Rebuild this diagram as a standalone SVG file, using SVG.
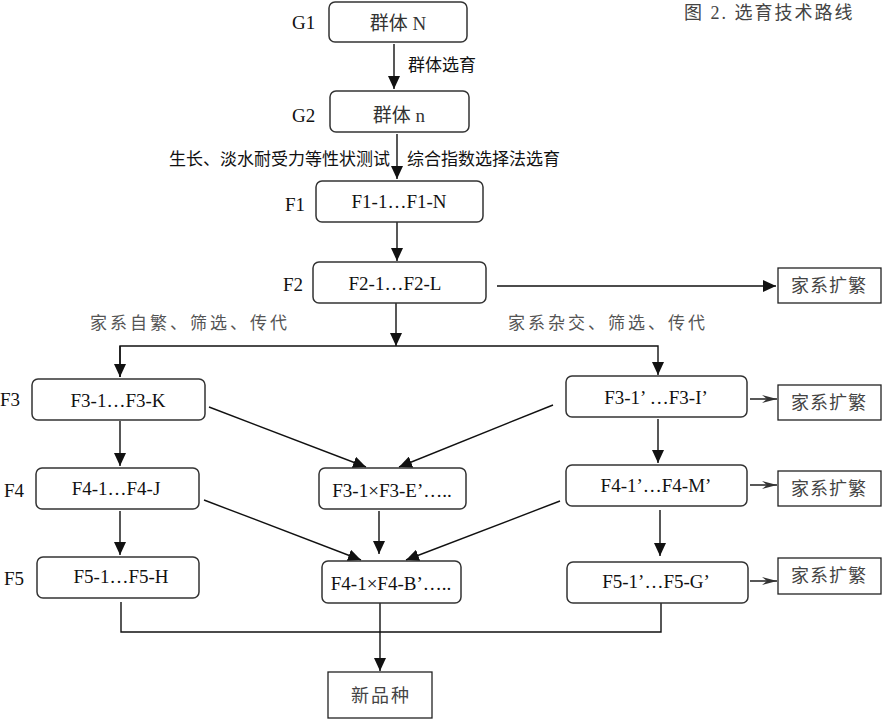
<svg xmlns="http://www.w3.org/2000/svg" width="883" height="719" viewBox="0 0 883 719">
<defs>
<marker id="ah" markerUnits="userSpaceOnUse" markerWidth="14" markerHeight="12" refX="13" refY="6" orient="auto">
<path d="M0,0 L13,6 L0,12 Z" fill="#111"/>
</marker>
<marker id="ah2" markerUnits="userSpaceOnUse" markerWidth="16" markerHeight="10" refX="15" refY="5" orient="auto">
<path d="M0,1 L15,5 L0,9 L5,5 Z" fill="#333"/>
</marker>
<style>
.box{fill:#fff;stroke:#333;stroke-width:1.5}
.sq{fill:#fff;stroke:#222;stroke-width:1.3}
.ln{fill:none;stroke:#111;stroke-width:1.4}
.t{font-family:"Liberation Serif","Noto Sans CJK SC",serif;font-size:19px;fill:#111;text-anchor:middle;dominant-baseline:central}
.lab{font-family:"Liberation Serif",serif;font-size:19px;fill:#111;dominant-baseline:central}
.zh{font-family:"Noto Sans CJK SC",sans-serif;font-size:17px;fill:#111;dominant-baseline:central}
.zs{font-family:"Liberation Serif","Noto Sans CJK SC",serif;font-size:17px;fill:#555;dominant-baseline:central;letter-spacing:3px}
.zb{font-family:"Liberation Serif","Noto Sans CJK SC",serif;font-size:18px;fill:#444;text-anchor:middle;dominant-baseline:central;letter-spacing:1px}
</style>
</defs>
<text x="684" y="13" class="zs" style="fill:#444;font-size:18px;letter-spacing:2px">图 2. 选育技术路线</text>
<g id="connectors">
<line class="ln" x1="394" y1="44" x2="394" y2="89" marker-end="url(#ah)"/>
<line class="ln" x1="397" y1="134" x2="397" y2="179" marker-end="url(#ah)"/>
<line class="ln" x1="397" y1="222" x2="397" y2="261" marker-end="url(#ah)"/>
<line class="ln" x1="497" y1="286" x2="776" y2="286" marker-end="url(#ah)"/>
<line class="ln" x1="396" y1="303" x2="396" y2="346" marker-end="url(#ah)"/>
<polyline class="ln" points="120,377 120,346 658,346 658,375" marker-end="url(#ah)"/>
<line class="ln" x1="120" y1="346" x2="120" y2="377" marker-end="url(#ah)"/>
<line class="ln" x1="120" y1="421" x2="120" y2="466" marker-end="url(#ah)"/>
<line class="ln" x1="120" y1="511" x2="120" y2="555" marker-end="url(#ah)"/>
<line class="ln" x1="658" y1="419" x2="658" y2="463" marker-end="url(#ah)"/>
<line class="ln" x1="660" y1="510" x2="660" y2="556" marker-end="url(#ah)"/>
<line class="ln" x1="209" y1="407" x2="366" y2="467" marker-end="url(#ah)"/>
<line class="ln" x1="553" y1="405" x2="399" y2="467" marker-end="url(#ah)"/>
<line class="ln" x1="204" y1="500" x2="361" y2="560" marker-end="url(#ah)"/>
<line class="ln" x1="560" y1="501" x2="406" y2="560" marker-end="url(#ah)"/>
<line class="ln" x1="379" y1="511" x2="379" y2="554" marker-end="url(#ah)"/>
<polyline class="ln" points="121,602 121,632 661,632 661,603"/>
<line class="ln" x1="380" y1="603" x2="380" y2="671" marker-end="url(#ah)"/>
<line class="ln" x1="750" y1="399" x2="777" y2="399" marker-end="url(#ah2)"/>
<line class="ln" x1="750" y1="485" x2="777" y2="485" marker-end="url(#ah2)"/>
<line class="ln" x1="750" y1="581" x2="777" y2="581" marker-end="url(#ah2)"/>
</g>
<text x="408" y="63" class="zh">群体选育</text>
<text x="390" y="157" class="zh" style="text-anchor:end">生长、淡水耐受力等性状测试</text>
<text x="407" y="157" class="zh">综合指数选择法选育</text>
<text x="90" y="323" class="zs">家系自繁、筛选、传代</text>
<text x="508" y="323" class="zs">家系杂交、筛选、传代</text>
<text x="292" y="22" class="lab">G1</text>
<text x="292" y="115" class="lab">G2</text>
<text x="285" y="204" class="lab">F1</text>
<text x="283" y="284" class="lab">F2</text>
<text x="0" y="399" class="lab">F3</text>
<text x="4" y="490" class="lab">F4</text>
<text x="4" y="578" class="lab">F5</text>
<g id="G1"><rect class="box" x="329" y="2" width="138" height="40" rx="6"/><text class="t" x="398" y="23" style="fill:#333">群体 N</text></g>
<g id="G2"><rect class="box" x="330" y="91" width="139" height="41" rx="6"/><text class="t" x="399" y="115" style="fill:#333">群体 n</text></g>
<g id="F1"><rect class="box" x="316" y="181" width="167" height="41" rx="6"/><text class="t" x="399" y="201">F1-1…F1-N</text></g>
<g id="F2"><rect class="box" x="313" y="262" width="173" height="41" rx="6"/><text class="t" x="395" y="283">F2-1…F2-L</text></g>
<g id="X1"><rect class="sq" x="778" y="268" width="103" height="35"/><text class="zb" x="829" y="286">家系扩繁</text></g>
<g id="F3L"><rect class="box" x="32" y="379" width="173" height="41" rx="6"/><text class="t" x="118" y="400">F3-1…F3-K</text></g>
<g id="F3R"><rect class="box" x="566" y="376" width="181" height="41" rx="6"/><text class="t" x="656" y="397">F3-1’ …F3-I’</text></g>
<g id="X2"><rect class="sq" x="778" y="385" width="103" height="35"/><text class="zb" x="829" y="403">家系扩繁</text></g>
<g id="F4L"><rect class="box" x="36" y="468" width="163" height="41" rx="6"/><text class="t" x="116" y="488">F4-1…F4-J</text></g>
<g id="F3X"><rect class="box" x="319" y="468" width="147" height="41" rx="6"/><text class="t" x="392" y="490">F3-1×F3-E’…..</text></g>
<g id="F4R"><rect class="box" x="566" y="465" width="181" height="41" rx="6"/><text class="t" x="656" y="485">F4-1’…F4-M’</text></g>
<g id="X3"><rect class="sq" x="778" y="471" width="103" height="35"/><text class="zb" x="829" y="489">家系扩繁</text></g>
<g id="F5L"><rect class="box" x="37" y="557" width="162" height="41" rx="6"/><text class="t" x="121" y="576">F5-1…F5-H</text></g>
<g id="F4X"><rect class="box" x="322" y="561" width="139" height="42" rx="6"/><text class="t" x="391" y="583">F4-1×F4-B’…..</text></g>
<g id="F5R"><rect class="box" x="567" y="562" width="181" height="41" rx="6"/><text class="t" x="656" y="581">F5-1’…F5-G’</text></g>
<g id="X4"><rect class="sq" x="778" y="558" width="103" height="36"/><text class="zb" x="829" y="576">家系扩繁</text></g>
<g id="NEW"><rect class="sq" x="328" y="672" width="104" height="46"/><text class="zb" x="381" y="696" style="letter-spacing:2px">新品种</text></g>
</svg>
